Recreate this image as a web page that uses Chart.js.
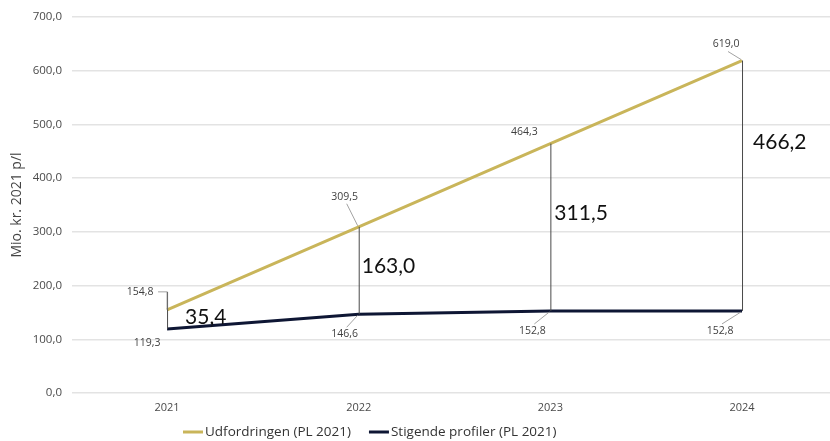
<!DOCTYPE html>
<html lang="da">
  <head>
    <meta charset="UTF-8" />
    <title>Udfordringen</title>
    <script src="https://cdn.jsdelivr.net/npm/chart.js"></script>
    <style>
      html, body { margin: 0; padding: 0; background: #fff; }
      #wrap { width: 830px; height: 441px; }
    </style>
  </head>
  <body>
    <div id="wrap"><canvas id="myChart" width="830" height="441"></canvas></div>

    <script>
      // data
      const years = [2021, 2022, 2023, 2024];
      const udfordringen = [154.8, 309.5, 464.3, 619.0];
      const stigende = [119.3, 146.6, 152.8, 152.8];
      const gaps = [35.4, 163.0, 311.5, 466.2];
      const yTicks = [0, 100, 200, 300, 400, 500, 600, 700];

      const gold = "#c9b55a";
      const navy = "#0e1634";

      function fmt(v) {
        return v.toFixed(1).replace(".", ",");
      }

      // label placement (pixel offsets from the point) + leader style
      const goldLabels = [
        { dx: -27, dy: -18, leader: "bracket" },
        { dx: -14, dy: -30, leader: "diag" },
        { dx: -26, dy: -12, leader: "none" },
        { dx: -16, dy: -16, leader: "diag" }
      ];
      const navyLabels = [
        { dx: -20, dy: 14, leader: "none" },
        { dx: -14, dy: 20, leader: "diag" },
        { dx: -18, dy: 20, leader: "diag" },
        { dx: -22, dy: 20, leader: "diag" }
      ];
      // gap label: x offset in px, y in axis units
      const gapPos = [
        { dx: 18, y: 141 },
        { dx: 3, y: 236 },
        { dx: 4, y: 335 },
        { dx: 11, y: 467 }
      ];

      const gapPlugin = {
        id: "gapPlugin",
        afterDatasetsDraw(chart) {
          const ctx = chart.ctx;
          const xs = chart.scales.x;
          const ys = chart.scales.y;
          ctx.save();
          // vertical gap lines
          years.forEach((yr, i) => {
            const x = xs.getPixelForValue(yr);
            let top = ys.getPixelForValue(udfordringen[i]);
            if (goldLabels[i].leader === "bracket") top = top + goldLabels[i].dy;
            const bot = ys.getPixelForValue(stigende[i]);
            ctx.strokeStyle = "#4a4a4a";
            ctx.lineWidth = 1;
            ctx.beginPath();
            ctx.moveTo(x + 0.5, top);
            ctx.lineTo(x + 0.5, bot);
            ctx.stroke();
          });

          // point labels
          ctx.font = "10.5px 'Open Sans'";
          ctx.fillStyle = "#3f3f3f";
          ctx.textAlign = "center";
          ctx.textBaseline = "middle";
          const drawLbl = (val, yr, p) => {
            const x = xs.getPixelForValue(yr);
            const y = ys.getPixelForValue(val);
            const lx = x + p.dx;
            const ly = y + p.dy;
            ctx.fillText(fmt(val), lx, ly);
            ctx.strokeStyle = "#8a8a8a";
            ctx.lineWidth = 0.8;
            if (p.leader === "bracket") {
              ctx.beginPath();
              ctx.moveTo(lx + 18, ly);
              ctx.lineTo(x, ly);
              ctx.lineTo(x, y);
              ctx.stroke();
            } else if (p.leader === "diag") {
              const up = p.dy < 0;
              ctx.beginPath();
              ctx.moveTo(lx + 2, ly + (up ? 7 : -7));
              ctx.lineTo(x - 1, y + (up ? -1 : 1));
              ctx.stroke();
            }
          };
          years.forEach((yr, i) => {
            drawLbl(udfordringen[i], yr, goldLabels[i]);
            drawLbl(stigende[i], yr, navyLabels[i]);
          });

          // gap values
          ctx.font = "21px Lato";
          ctx.fillStyle = "#111";
          ctx.textAlign = "left";
          years.forEach((yr, i) => {
            const x = xs.getPixelForValue(yr) + gapPos[i].dx;
            const y = ys.getPixelForValue(gapPos[i].y);
            ctx.fillText(fmt(gaps[i]), x, y);
          });
          ctx.restore();
        },
        afterDraw(chart) {
          // legend row at the bottom, built from the datasets
          const ctx = chart.ctx;
          ctx.save();
          ctx.font = "13.5px 'Open Sans'";
          ctx.textBaseline = "middle";
          ctx.textAlign = "left";
          let x = 183;
          const y = 432;
          chart.data.datasets.forEach((ds) => {
            ctx.strokeStyle = ds.borderColor;
            ctx.lineWidth = 3;
            ctx.beginPath();
            ctx.moveTo(x, y);
            ctx.lineTo(x + 20, y);
            ctx.stroke();
            ctx.fillStyle = "#333";
            ctx.fillText(ds.label, x + 22, y);
            x += 22 + ctx.measureText(ds.label).width + 18;
          });
          ctx.restore();
        }
      };

      const data = {
        datasets: [
          {
            label: "Udfordringen (PL 2021)",
            data: years.map((yr, i) => ({ x: yr, y: udfordringen[i] })),
            borderColor: gold,
            backgroundColor: gold,
            borderWidth: 3,
            pointRadius: 0,
            tension: 0
          },
          {
            label: "Stigende profiler (PL 2021)",
            data: years.map((yr, i) => ({ x: yr, y: stigende[i] })),
            borderColor: navy,
            backgroundColor: navy,
            borderWidth: 3,
            pointRadius: 0,
            tension: 0
          }
        ]
      };

      const config = {
        type: "line",
        data: data,
        options: {
          responsive: false,
          animation: false,
          layout: { padding: { top: 17, right: 0, bottom: 26, left: 0 } },
          plugins: {
            tooltip: { enabled: false },
            legend: { display: false }
          },
          scales: {
            x: {
              type: "linear",
              min: 2020.504,
              max: 2024.459,
              afterBuildTicks: (s) => { s.ticks = years.map((v) => ({ value: v })); },
              afterFit: (s) => { s.height = 22; },
              grid: { display: false, drawTicks: false },
              border: { display: false },
              ticks: {
                padding: 8,
                color: "#4a4a4a",
                font: { family: "'Open Sans'", size: 11 },
                callback: (v) => String(v)
              }
            },
            y: {
              min: 0,
              max: 700,
              afterBuildTicks: (s) => { s.ticks = yTicks.map((v) => ({ value: v })); },
              afterFit: (s) => { s.width = 72; },
              grid: { color: "#e3e3e3", lineWidth: 1.5, drawTicks: false },
              border: { display: false },
              title: {
                display: true,
                text: "Mio. kr. 2021 p/l",
                color: "#444",
                padding: { top: 9, bottom: 0 },
                font: { family: "'Open Sans'", size: 14 }
              },
              ticks: {
                padding: 10,
                color: "#4a4a4a",
                font: { family: "'Open Sans'", size: 11.5 },
                callback: (v) => fmt(v)
              }
            }
          }
        },
        plugins: [gapPlugin]
      };

      const myChart = new Chart(document.getElementById("myChart"), config);
    </script>
  </body>
</html>
